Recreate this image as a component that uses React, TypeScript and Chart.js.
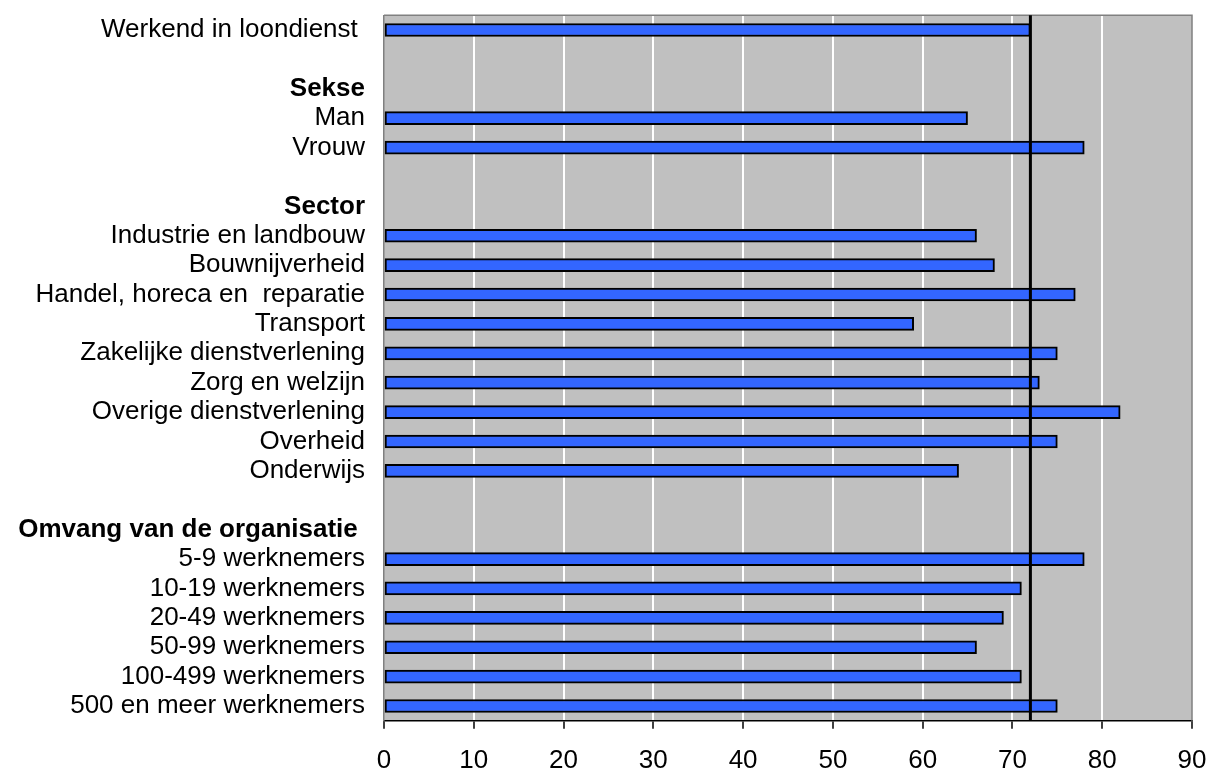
import React, { useEffect, useRef } from "react";
import { Chart, registerables } from "chart.js";

Chart.register(...registerables);

// Row labels, top to bottom (empty strings are spacer rows)
const categories: string[] = [
  "Werkend in loondienst ",
  "",
  "Sekse",
  "Man",
  "Vrouw",
  "",
  "Sector",
  "Industrie en landbouw",
  "Bouwnijverheid",
  "Handel, horeca en  reparatie",
  "Transport",
  "Zakelijke dienstverlening",
  "Zorg en welzijn",
  "Overige dienstverlening",
  "Overheid",
  "Onderwijs",
  "",
  "Omvang van de organisatie ",
  "5-9 werknemers",
  "10-19 werknemers",
  "20-49 werknemers",
  "50-99 werknemers",
  "100-499 werknemers",
  "500 en meer werknemers",
];

// Group headings shown in bold
const headings: string[] = ["Sekse", "Sector", "Omvang van de organisatie "];

// Percentages per row (null for headings and spacers)
const values: (number | null)[] = [
  72, null, null, 65, 78, null, null, 66, 68, 77, 59, 75, 73, 82, 75, 64, null, null, 78, 71, 69, 66, 71, 75,
];

// Overall average, drawn as a vertical line
const referenceValue = 72;

// Horizontal axis
const axisMin = 0;
const axisMax = 90;
const axisStep = 10;

const FONT = "'Liberation Sans', Arial, Helvetica, sans-serif";

const plotDecor = {
  id: "plotDecor",
  beforeDraw(chart: any) {
    const { ctx, chartArea } = chart;
    ctx.save();
    ctx.fillStyle = "#C0C0C0";
    ctx.fillRect(chartArea.left, chartArea.top, chartArea.right - chartArea.left, chartArea.bottom - chartArea.top);
    ctx.restore();
  },
  afterDatasetsDraw(chart: any) {
    const { ctx, chartArea, scales } = chart;
    const x = scales.x.getPixelForValue(referenceValue);
    ctx.save();
    // top and right edges of the plot frame
    ctx.strokeStyle = "#808080";
    ctx.lineWidth = 1.5;
    ctx.beginPath();
    ctx.moveTo(chartArea.left, chartArea.top);
    ctx.lineTo(chartArea.right, chartArea.top);
    ctx.lineTo(chartArea.right, chartArea.bottom);
    ctx.stroke();
    // average line
    ctx.strokeStyle = "#000";
    ctx.lineWidth = 3;
    ctx.beginPath();
    ctx.moveTo(x, chartArea.top);
    ctx.lineTo(x, chartArea.bottom);
    ctx.stroke();
    ctx.restore();
  },
};

export default function App() {
  const canvasRef = useRef<HTMLCanvasElement | null>(null);

  useEffect(() => {
    if (!canvasRef.current) return;
    const chart = new Chart(canvasRef.current, {
      type: "bar",
      data: {
        labels: categories,
        datasets: [
          {
            data: values as any,
            backgroundColor: "#3366FF",
            borderColor: "#000",
            borderWidth: 2,
            barThickness: 13,
            borderSkipped: false,
          },
        ],
      },
      options: {
        indexAxis: "y",
        animation: false,
        responsive: true,
        maintainAspectRatio: false,
        layout: { padding: { top: 15.3, right: 15, bottom: 0, left: 0 } },
        plugins: {
          legend: { display: false },
          tooltip: { enabled: false },
          title: { display: false },
        },
        scales: {
          x: {
            type: "linear",
            min: axisMin,
            max: axisMax,
            afterFit(scale: any) {
              scale.height = 48.3;
              scale.paddingLeft = 0;
              scale.paddingRight = 0;
            },
            ticks: {
              stepSize: axisStep,
              color: "#000",
              padding: 17,
              font: { family: FONT, size: 26 },
            },
            grid: {
              color: (ctx: any) =>
                ctx.tick && (ctx.tick.value === axisMin || ctx.tick.value === axisMax) ? "rgba(0,0,0,0)" : "#FFFFFF",
              lineWidth: 2,
              tickColor: "#000",
              tickLength: 8,
              tickWidth: 1.5,
            },
            border: { color: "#000", width: 1.5 },
          },
          y: {
            type: "category",
            afterFit(scale: any) {
              scale.width = 384;
              scale.paddingTop = 0;
              scale.paddingBottom = 0;
            },
            ticks: {
              autoSkip: false,
              color: "#000",
              padding: 19,
              font: (ctx: any) => ({
                family: FONT,
                size: 26,
                lineHeight: 1,
                weight: ctx.tick && headings.includes(ctx.tick.label) ? "bold" : "normal",
              }),
            },
            grid: { display: false, drawTicks: false, tickLength: 0 },
            border: { color: "#808080", width: 1.5 },
          },
        },
      },
      plugins: [plotDecor],
    });
    return () => chart.destroy();
  }, []);

  return (
    <div style={{ position: "fixed", left: 0, top: 0, width: 1207, height: 769, background: "#fff" }}>
      <canvas ref={canvasRef} />
    </div>
  );
}
